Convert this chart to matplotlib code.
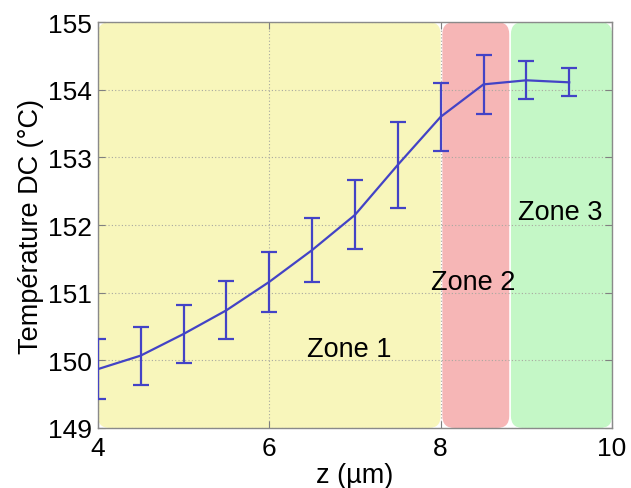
import matplotlib
matplotlib.use("Agg")
import matplotlib.pyplot as plt
from matplotlib.patches import FancyBboxPatch

z = [4.0, 4.5, 5.0, 5.5, 6.0, 6.5, 7.0, 7.5, 8.0, 8.5, 9.0, 9.5]
temp = [149.87, 150.07, 150.39, 150.74, 151.16, 151.63, 152.15, 152.89, 153.60, 154.08, 154.14, 154.11]
err = [0.44, 0.43, 0.43, 0.43, 0.445, 0.47, 0.51, 0.64, 0.50, 0.435, 0.28, 0.205]

zones = ["Zone 1", "Zone 2", "Zone 3"]
zone_start = [4.0, 8.02, 8.82]
zone_end = [8.0, 8.80, 10.0]
zone_colors = ["#f8f6bb", "#f6b6b6", "#c4f7c6"]
zone_label_x = [6.93, 8.38, 9.40]
zone_label_y = [150.17, 151.16, 152.19]

plt.rcParams['font.family'] = ['Liberation Sans', 'DejaVu Sans']

fig = plt.figure(figsize=(6.31, 4.89), dpi=100)
ax = fig.add_axes([0.155, 0.1227, 0.815, 0.830])
ax.set_xlim(4, 10)
ax.set_ylim(149, 155)

# rounded zone backgrounds (in axes coordinates)
aw, ah = 0.815 * 631, 0.830 * 489
r = 12.0 / aw
for x0, x1, c in zip(zone_start, zone_end, zone_colors):
    ax0 = (x0 - 4) / 6.0
    ax1 = (x1 - 4) / 6.0
    p = FancyBboxPatch((ax0, 0.0), ax1 - ax0, 1.0,
                       boxstyle=f"round,pad=0,rounding_size={r}",
                       mutation_aspect=aw / ah,
                       transform=ax.transAxes, facecolor=c, edgecolor="none",
                       zorder=0.5)
    ax.add_patch(p)

ax.grid(True, linestyle=(0, (1, 2)), color="#a8a8a0", linewidth=0.8)

line_color = "#4343c6"
ax.plot(z, temp, color=line_color, linewidth=1.6, zorder=3)
ax.errorbar(z, temp, yerr=err, fmt="none", ecolor=line_color, elinewidth=1.6,
            capsize=6, capthick=1.6, zorder=3)

for name, lx, ly in zip(zones, zone_label_x, zone_label_y):
    ax.text(lx, ly, name, ha="center", va="center", fontsize=19.5, color="black", zorder=4)

ax.set_xticks([4, 6, 8, 10])
ax.set_yticks([149, 150, 151, 152, 153, 154, 155])
ax.tick_params(direction="in", length=5, width=0.8, colors="#808080",
               labelcolor="black", labelsize=19, top=True, right=True)
ax.tick_params(axis="y", pad=4)
ax.tick_params(axis="x", pad=6)
for s in ax.spines.values():
    s.set_color("#8a8a8a")
    s.set_linewidth(1.0)

ax.set_xlabel("z (µm)", fontsize=19.5, labelpad=1)
ax.set_ylabel("Température DC (°C)", fontsize=19.5, labelpad=3)

fig.savefig("out.png", dpi=100)
